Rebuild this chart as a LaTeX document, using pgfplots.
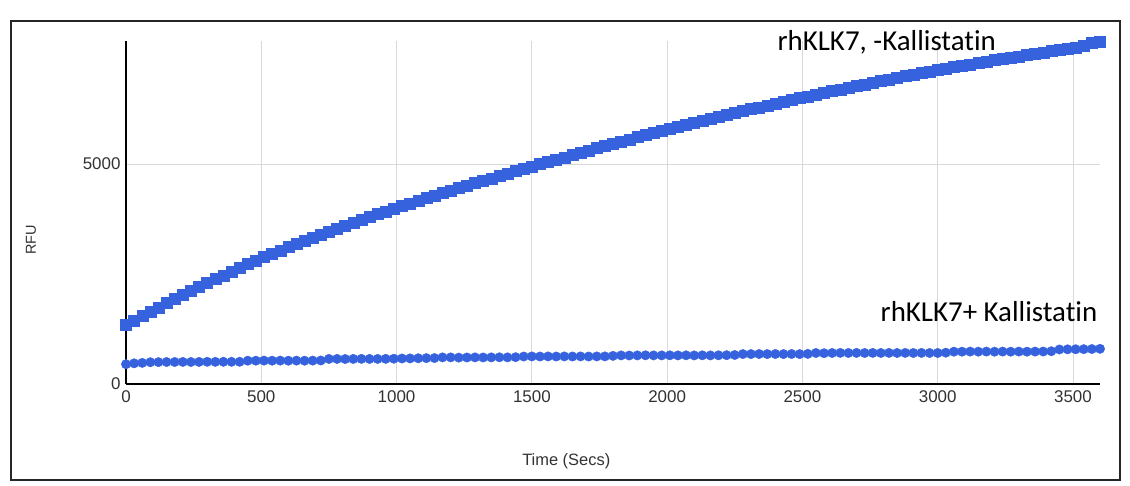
\documentclass[border=0pt]{standalone}
\usepackage{pgfplots}
\pgfplotsset{compat=1.18}
\usepackage{fontspec}
\setmainfont{Liberation Sans}
\newfontfamily\calibri[Ligatures=NoCommon]{Carlito}
\definecolor{gblue}{RGB}{54,98,222}
\definecolor{tickgray}{RGB}{50,50,50}

\begin{document}
\begin{tikzpicture}[x=1bp,y=1bp]
  \useasboundingbox (0,0) rectangle (1130,486);
  \draw[line width=1.6bp, black!85] (11,6) rectangle (1120,465);
  \begin{axis}[
      at={(126bp,102bp)},
      anchor=south west,
      scale only axis,
      width=974bp,
      height=343bp,
      xmin=0, xmax=3600,
      ymin=0, ymax=7800,
      axis x line=bottom,
      axis y line=left,
      axis line style={-, line width=1.3bp, black},
      xtick={0,500,1000,1500,2000,2500,3000,3500},
      ytick={0,5000},
      major tick length=0pt,
      xmajorgrids, ymajorgrids,
      grid style={line width=0.9bp, black!15},
      tick label style={font=\fontsize{17}{20}\selectfont, color=tickgray},
      xticklabel style={yshift=-3bp},
      yticklabel style={xshift=-2bp},
      /pgf/number format/assume math mode=true,
      /pgf/number format/1000 sep={},
      clip=false,
    ]
    % rhKLK7 without Kallistatin
    \addplot[only marks, mark=square*, mark size=5.5bp, color=gblue] coordinates {
      (0,1340) (30,1445) (60,1545) (90,1645) (120,1743) (150,1838) (180,1933)
      (210,2025) (240,2117) (270,2207) (300,2297) (330,2385) (360,2471)
      (390,2557) (420,2641) (450,2725) (480,2807) (510,2889) (540,2965)
      (570,3040) (600,3114) (630,3187) (660,3259) (690,3330) (720,3400)
      (750,3469) (780,3537) (810,3604) (840,3670) (870,3735) (900,3799)
      (930,3862) (960,3925) (990,3987) (1020,4049) (1050,4109) (1080,4168)
      (1110,4227) (1140,4285) (1170,4343) (1200,4400) (1230,4457) (1260,4513)
      (1290,4569) (1320,4624) (1350,4679) (1380,4733) (1410,4787) (1440,4841)
      (1470,4894) (1500,4947) (1530,5000) (1560,5053) (1590,5105) (1620,5157)
      (1650,5209) (1680,5260) (1710,5311) (1740,5362) (1770,5413) (1800,5463)
      (1830,5513) (1860,5563) (1890,5613) (1920,5662) (1950,5711) (1980,5760)
      (2010,5809) (2040,5855) (2070,5901) (2100,5946) (2130,5991) (2160,6035)
      (2190,6079) (2220,6123) (2250,6166) (2280,6209) (2310,6252) (2340,6294)
      (2370,6336) (2400,6378) (2430,6419) (2460,6460) (2490,6501) (2520,6542)
      (2550,6582) (2580,6622) (2610,6661) (2640,6700) (2670,6739) (2700,6777)
      (2730,6815) (2760,6853) (2790,6890) (2820,6927) (2850,6964) (2880,7001)
      (2910,7037) (2940,7073) (2970,7109) (3000,7145) (3030,7177) (3060,7209)
      (3090,7241) (3120,7272) (3150,7303) (3180,7334) (3210,7364) (3240,7394)
      (3270,7424) (3300,7454) (3330,7484) (3360,7513) (3390,7542) (3420,7571)
      (3450,7600) (3480,7629) (3510,7657) (3540,7700) (3570,7770) (3600,7785)
    };
    % rhKLK7 with Kallistatin
    \addplot[only marks, mark=*, mark size=4.7bp, color=gblue] coordinates {
      (0,450) (30,470) (60,480) (90,495) (120,497) (150,500) (180,500)
      (210,502) (240,500) (270,502) (300,505) (330,503) (360,505) (390,505)
      (420,505) (450,530) (480,530) (510,532) (540,530) (570,532) (600,530)
      (630,532) (660,530) (690,532) (720,535) (750,570) (780,570) (810,568)
      (840,570) (870,572) (900,570) (930,570) (960,572) (990,575) (1020,580)
      (1050,582) (1080,585) (1110,588) (1140,590) (1170,605) (1200,605)
      (1230,600) (1260,603) (1290,605) (1320,603) (1350,605) (1380,607)
      (1410,605) (1440,610) (1470,625) (1500,627) (1530,625) (1560,627)
      (1590,625) (1620,627) (1650,625) (1680,627) (1710,625) (1740,627)
      (1770,628) (1800,640) (1830,650) (1860,648) (1890,650) (1920,652)
      (1950,650) (1980,650) (2010,652) (2040,650) (2070,652) (2100,650)
      (2130,652) (2160,650) (2190,652) (2220,655) (2250,660) (2280,680)
      (2310,680) (2340,682) (2370,680) (2400,682) (2430,680) (2460,682)
      (2490,680) (2520,685) (2550,705) (2580,700) (2610,705) (2640,707)
      (2670,705) (2700,707) (2730,705) (2760,707) (2790,705) (2820,707)
      (2850,705) (2880,707) (2910,705) (2940,707) (2970,705) (3000,705)
      (3030,712) (3060,735) (3090,735) (3120,737) (3150,735) (3180,737)
      (3210,735) (3240,737) (3270,735) (3300,737) (3330,735) (3360,737)
      (3390,738) (3420,745) (3450,785) (3480,788) (3510,790) (3540,792)
      (3570,795) (3600,800)
    };
    \node[font=\fontsize{16.5}{19}\selectfont, color=tickgray]
      at (axis description cs:0.452,-0.2245) {Time (Secs)};
    \node[font=\fontsize{14.5}{17}\selectfont, color=tickgray, rotate=90]
      at (axis description cs:-0.0975,0.42) {RFU};
    \node[font=\calibri\fontsize{29}{34}\selectfont, anchor=center]
      at (axis description cs:0.781,0.995) {rhKLK7, -Kallistatin};
    \node[font=\calibri\fontsize{29}{34}\selectfont, anchor=center]
      at (axis description cs:0.886,0.21) {rhKLK7+ Kallistatin};
  \end{axis}
\end{tikzpicture}
\end{document}
